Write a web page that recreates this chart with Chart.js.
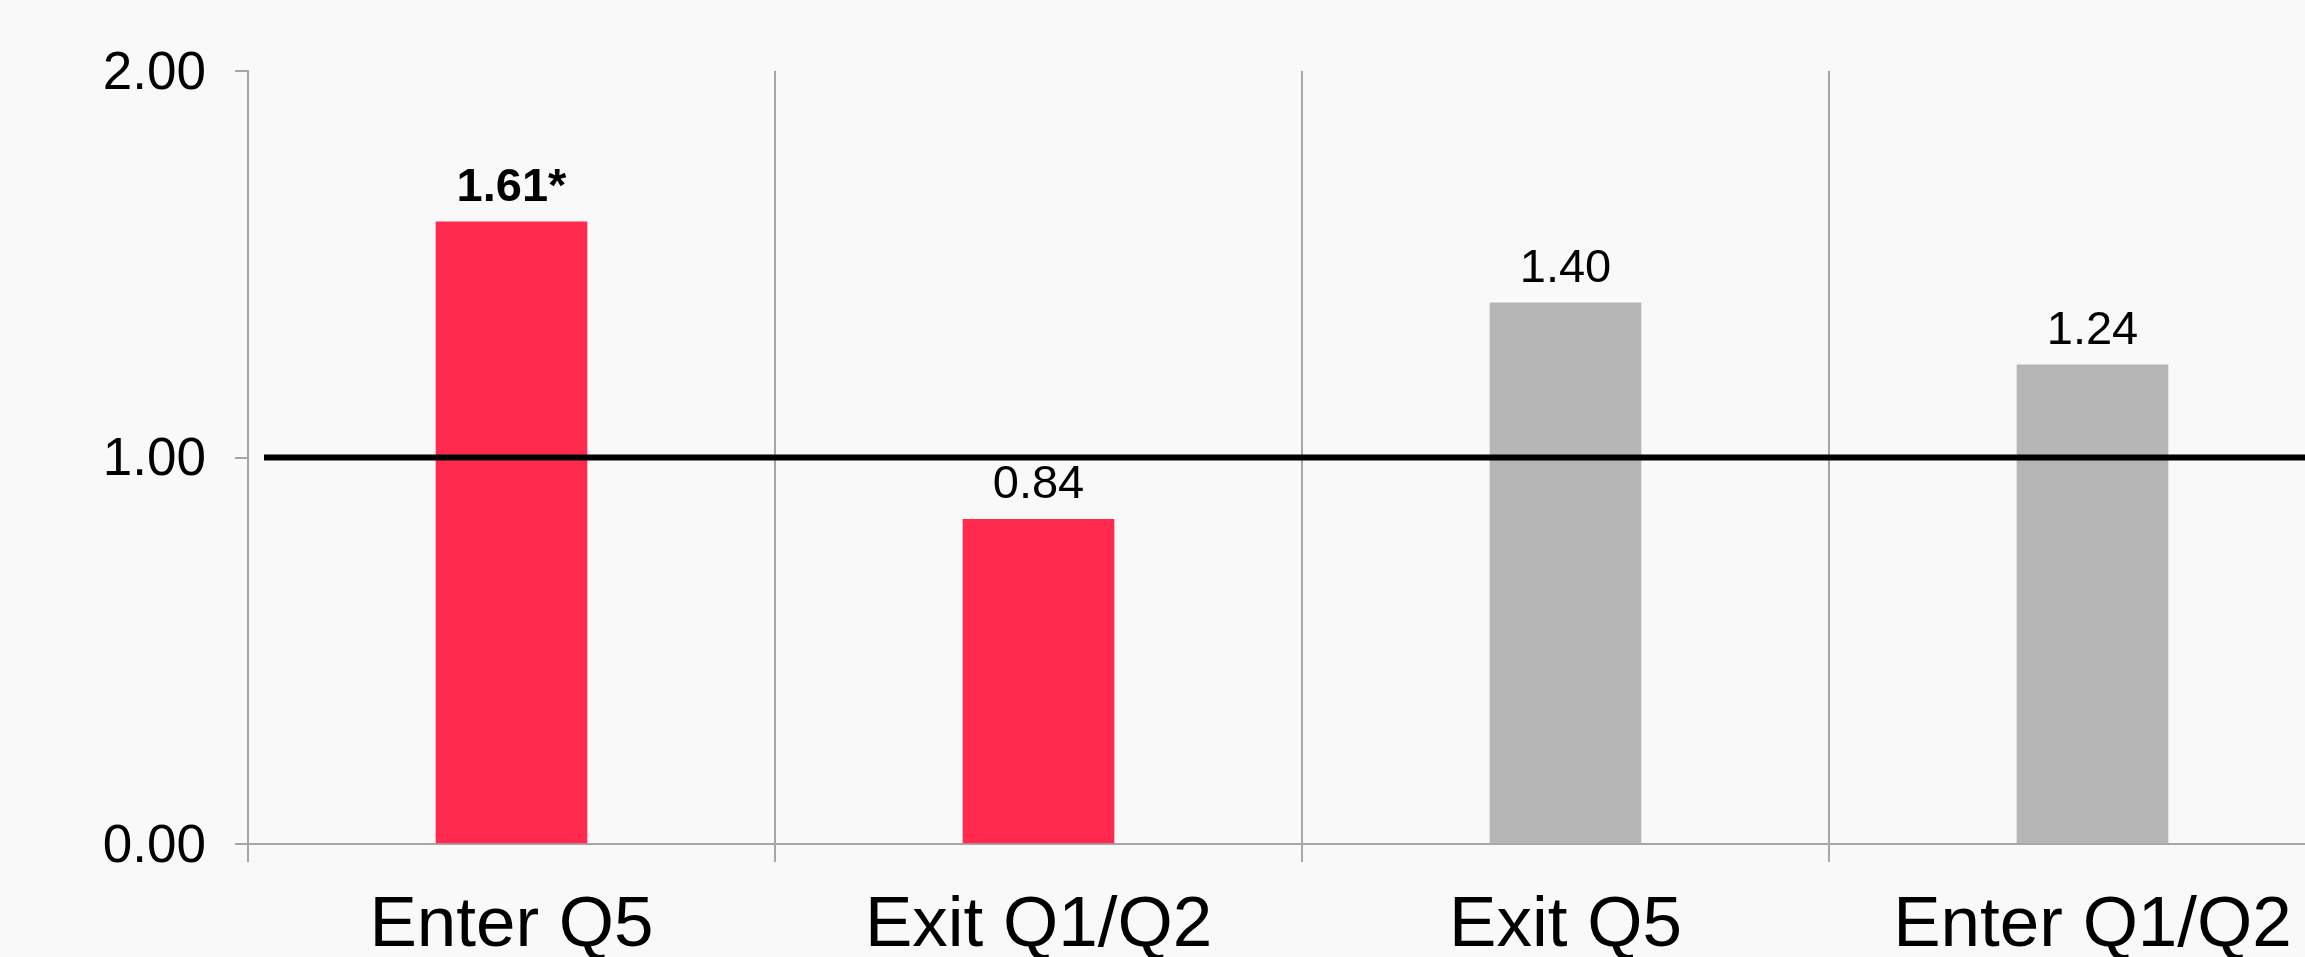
<!DOCTYPE html>
<html>
<head>
<meta charset="utf-8">
<script src="https://cdn.jsdelivr.net/npm/chart.js@4/dist/chart.umd.min.js"></script>
<style>
  html, body { margin: 0; padding: 0; background: #f9f9f9; overflow: hidden; }
  #wrap { width: 2400px; height: 957px; position: relative; }
</style>
</head>
<body>
<div id="wrap"><canvas id="ratioChart"></canvas></div>
<script>
const categories = ["Enter Q5", "Exit Q1/Q2", "Exit Q5", "Enter Q1/Q2"];
const ratios = [1.61, 0.84, 1.40, 1.24];
const significant = [true, false, false, false];
const barColors = ["#ff2a4e", "#ff2a4e", "#b5b5b5", "#b5b5b5"];
const yTicks = [0, 1, 2];
const referenceValue = 1.0;

const FONT = "'Liberation Sans', Arial, Helvetica, sans-serif";
const GRID = "#a6a6a6";

// value printed above every bar, bold with a star when significant
const barLabels = {
    id: "barLabels",
    afterDatasetsDraw(chart) {
        const ctx = chart.ctx;
        const meta = chart.getDatasetMeta(0);
        ctx.save();
        ctx.textAlign = "center";
        ctx.textBaseline = "alphabetic";
        ctx.fillStyle = "#000";
        meta.data.forEach((bar, i) => {
            const text = ratios[i].toFixed(2) + (significant[i] ? "*" : "");
            ctx.font = (significant[i] ? "bold " : "") + "47px " + FONT;
            ctx.fillText(text, bar.x, bar.y - 21);
        });
        ctx.restore();
    }
};

// thick black line at ratio 1
const referenceLine = {
    id: "referenceLine",
    afterDatasetsDraw(chart) {
        const ctx = chart.ctx;
        const area = chart.chartArea;
        const y = chart.scales.y.getPixelForValue(referenceValue);
        ctx.save();
        ctx.strokeStyle = "#000";
        ctx.lineWidth = 6;
        ctx.beginPath();
        ctx.moveTo(area.left + 16, y);
        ctx.lineTo(chart.width, y);
        ctx.stroke();
        ctx.restore();
    }
};

new Chart(document.getElementById("ratioChart"), {
    type: "bar",
    data: {
        labels: categories,
        datasets: [
            {
                data: ratios,
                backgroundColor: barColors,
                barThickness: 151,
            },
        ],
    },
    options: {
        responsive: true,
        maintainAspectRatio: false,
        animation: false,
        layout: { padding: { top: 71, right: 44, bottom: 0, left: 0 } },
        plugins: {
            legend: { display: false },
            tooltip: { enabled: false },
        },
        scales: {
            x: {
                offset: true,
                grid: {
                    offset: true,
                    color: GRID,
                    lineWidth: 2,
                    tickLength: 18,
                },
                border: { color: GRID, width: 2 },
                ticks: {
                    color: "#000",
                    font: { family: FONT, size: 71 },
                    padding: 22,
                    maxRotation: 0,
                },
                afterFit(scale) { scale.height = 113; },
            },
            y: {
                min: 0,
                max: 2,
                afterBuildTicks(scale) {
                    scale.ticks = yTicks.map(v => ({ value: v }));
                },
                grid: {
                    drawOnChartArea: false,
                    color: GRID,
                    lineWidth: 2,
                    tickLength: 13,
                },
                border: { color: GRID, width: 2 },
                ticks: {
                    color: "#000",
                    font: { family: FONT, size: 53 },
                    padding: 29,
                    labelOffset: 3,
                    callback: v => Number(v).toFixed(2),
                },
                afterFit(scale) { scale.width = 248; },
            },
        },
    },
    plugins: [barLabels, referenceLine],
});
</script>
</body>
</html>
